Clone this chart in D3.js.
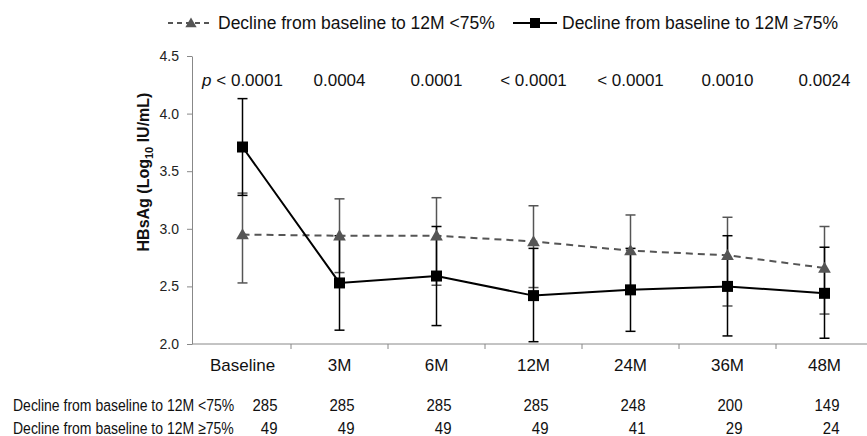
<!DOCTYPE html>
<html><head>
<meta charset="utf-8">
<script src="https://d3js.org/d3.v7.min.js"></script>
<style>
  body { margin: 0; background: #fff; }
  svg { font-family: "Liberation Sans", Arial, sans-serif; }
  .yaxis path, .yaxis line { stroke: #888; }
  .yaxis text { font-size: 14px; fill: #222; }
</style>
</head>
<body>
<svg id="chart" width="867" height="436"></svg>
<script>
// time points
const timepoints = ["Baseline", "3M", "6M", "12M", "24M", "36M", "48M"];

// decline <75% (grey dashed, triangles)
const lowMean  = [2.95, 2.94, 2.94, 2.89, 2.81, 2.77, 2.66];
const lowUpper = [3.31, 3.26, 3.27, 3.20, 3.12, 3.10, 3.02];
const lowLower = [2.53, 2.62, 2.51, 2.49, 2.50, 2.33, 2.26];

// decline >=75% (black solid, squares)
const highMean  = [3.71, 2.53, 2.59, 2.42, 2.47, 2.50, 2.44];
const highUpper = [4.13, 2.94, 3.02, 2.83, 2.83, 2.94, 2.84];
const highLower = [3.29, 2.12, 2.16, 2.02, 2.11, 2.07, 2.05];

// p values per time point
const pValues = ["< 0.0001", "0.0004", "0.0001", "< 0.0001", "< 0.0001", "0.0010", "0.0024"];

// patients at risk
const lowCounts  = [285, 285, 285, 285, 248, 200, 149];
const highCounts = [49, 49, 49, 49, 41, 29, 24];

const lowLabel  = "Decline from baseline to 12M <75%";
const highLabel = "Decline from baseline to 12M \u226575%";
const yTicks = [2.0, 2.5, 3.0, 3.5, 4.0, 4.5];

const svg = d3.select("#chart");
const grey = "#555";

const x = d3.scaleBand().domain(timepoints).range([194, 873]);
const y = d3.scaleLinear().domain([2, 4.5]).range([344, 56]);
const cx = d => x(d) + x.bandwidth() / 2;

// y axis
svg.append("g").attr("class", "yaxis")
  .attr("transform", "translate(192,0)")
  .call(d3.axisLeft(y).tickValues(yTicks).tickFormat(d3.format(".1f")).tickSize(5).tickSizeOuter(0).tickPadding(8));

// y title
svg.append("text")
  .attr("transform", "translate(149,172) rotate(-90)")
  .attr("text-anchor", "middle")
  .style("font-size", "16px").style("font-weight", "bold").attr("fill", "#111")
  .call(t => {
    t.append("tspan").text("HBsAg (Log");
    t.append("tspan").text("10").attr("dy", 4).style("font-size", "11px");
    t.append("tspan").text(" IU/mL)").attr("dy", -4);
  });

// x axis
svg.append("line").attr("x1", 192).attr("x2", 867).attr("y1", y(2)).attr("y2", y(2))
  .attr("stroke", "#888");
svg.selectAll("line.xtick").data(timepoints.slice(1)).join("line").attr("class", "xtick")
  .attr("x1", d => x(d)).attr("x2", d => x(d))
  .attr("y1", y(2)).attr("y2", y(2) + 5).attr("stroke", "#888");
svg.selectAll("text.xlab").data(timepoints).join("text").attr("class", "xlab")
  .attr("x", d => cx(d)).attr("y", 371).attr("text-anchor", "middle")
  .style("font-size", "17px").attr("fill", "#111").text(d => d);

// p values
svg.selectAll("text.pval").data(pValues).join("text").attr("class", "pval")
  .attr("x", (d, i) => cx(timepoints[i])).attr("y", 86).attr("text-anchor", "middle")
  .style("font-size", "17px").attr("fill", "#111")
  .each(function(d, i) {
    const t = d3.select(this);
    if (i === 0) {
      t.append("tspan").text("p").style("font-style", "italic");
      t.append("tspan").text(" " + d);
    } else t.text(d);
  });

// error bars
function errorBars(lo, hi, color, width) {
  const g = svg.append("g").attr("stroke", color).attr("stroke-width", width);
  timepoints.forEach((tp, i) => {
    const xc = cx(tp);
    g.append("line").attr("x1", xc).attr("x2", xc).attr("y1", y(lo[i])).attr("y2", y(hi[i]));
    [lo[i], hi[i]].forEach(v => {
      g.append("line").attr("x1", xc - 5).attr("x2", xc + 5).attr("y1", y(v)).attr("y2", y(v));
    });
  });
}
errorBars(lowLower, lowUpper, grey, 1.5);
errorBars(highLower, highUpper, "#000", 1.5);

const line = d3.line().x((d, i) => cx(timepoints[i])).y(d => y(d));
svg.append("path").datum(lowMean).attr("d", line).attr("fill", "none")
  .attr("stroke", grey).attr("stroke-width", 2).attr("stroke-dasharray", "7,5");
svg.append("path").datum(highMean).attr("d", line).attr("fill", "none")
  .attr("stroke", "#000").attr("stroke-width", 2);

const tri = d3.symbol().type(d3.symbolTriangle).size(70);
svg.selectAll("path.tri").data(lowMean).join("path").attr("class", "tri")
  .attr("d", tri).attr("fill", grey)
  .attr("transform", (d, i) => `translate(${cx(timepoints[i])},${y(d) + 1})`);
svg.selectAll("rect.sq").data(highMean).join("rect").attr("class", "sq")
  .attr("x", (d, i) => cx(timepoints[i]) - 5.5).attr("y", d => y(d) - 5.5)
  .attr("width", 11).attr("height", 11).attr("fill", "#000");

// legend
const leg = svg.append("g");
leg.append("line").attr("x1", 168).attr("x2", 211).attr("y1", 23).attr("y2", 23)
  .attr("stroke", grey).attr("stroke-width", 2).attr("stroke-dasharray", "5,4");
leg.append("path").attr("d", d3.symbol().type(d3.symbolTriangle).size(55)).attr("fill", grey).attr("transform", "translate(191,24)");
leg.append("text").attr("x", 218).attr("y", 29).style("font-size", "17.5px").attr("fill", "#111").text(lowLabel);
leg.append("line").attr("x1", 513).attr("x2", 557).attr("y1", 23).attr("y2", 23)
  .attr("stroke", "#000").attr("stroke-width", 2);
leg.append("rect").attr("x", 530).attr("y", 18).attr("width", 10).attr("height", 10).attr("fill", "#000");
leg.append("text").attr("x", 562).attr("y", 29).style("font-size", "17.5px").attr("fill", "#111").text(highLabel);

// at-risk table (text a little taller than wide, as in the source)
const rows = [{label: lowLabel, counts: lowCounts, y: 411}, {label: highLabel, counts: highCounts, y: 434}];
rows.forEach(r => {
  svg.append("text").attr("transform", `translate(13,${r.y}) scale(1,1.18)`)
    .style("font-size", "14px").attr("fill", "#111").text(r.label);
  svg.selectAll(null).data(r.counts).join("text")
    .attr("transform", (d, i) => `translate(${cx(timepoints[i]) + (i === 0 ? 35 : 15)},${r.y}) scale(1,1.1)`)
    .attr("text-anchor", "end").style("font-size", "15px").attr("fill", "#111")
    .text(d => d);
});
</script>
</body></html>
